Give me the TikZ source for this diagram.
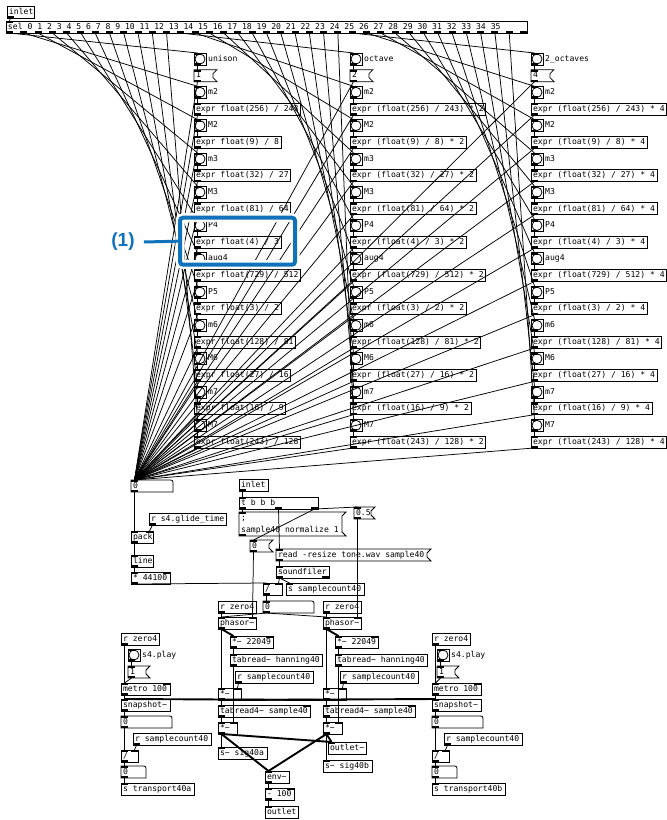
\documentclass[tikz,border=0pt]{standalone}
\usepackage{fontspec}
\newfontfamily\pdfont{DejaVu Sans Mono}
\newfontfamily\annfont{Liberation Sans}
\usetikzlibrary{calc}
\definecolor{annblue}{RGB}{16,114,186}
\newcommand\tld{\char"7E\relax}
\tikzset{
  pdtext/.style={font=\pdfont\fontsize{8.1}{9.5}\selectfont, inner sep=0pt, text height=6pt, text depth=1.7pt},
  pdbox/.style={pdtext, draw, line width=0.8pt, inner xsep=2pt, inner ysep=0pt, outer sep=0pt, minimum height=12pt, anchor=north west},
  pdshape/.style={pdtext, inner xsep=2pt, inner ysep=0pt, outer sep=0pt, minimum height=12pt, anchor=north west},
  pdline/.style={line width=0.8pt},
  cord/.style={line width=0.75pt},
  sigcord/.style={line width=1.9pt},
}
\newcommand\pdfitbox[2]{\ifdim#1pt>0pt\makebox[\dimexpr#1pt-4pt\relax][l]{#2}\else#2\fi}
\newcommand\pdio[7]{%
  \ifnum#6>0\relax
  \foreach \pdk in {1,...,#6}{%
    \pgfmathsetmacro\pdx{#2+(#4-7)/max(#6-1,1)*(\pdk-1)}%
    \fill (\pdx,#3) rectangle ++(7,2);
    \coordinate (#1-i\pdk) at (\pdx+3.5,#3);
  }\fi
  \ifnum#7>0\relax
  \foreach \pdk in {1,...,#7}{%
    \pgfmathsetmacro\pdx{#2+(#4-7)/max(#7-1,1)*(\pdk-1)}%
    \fill (\pdx,#3+#5) rectangle ++(7,-2);
    \coordinate (#1-o\pdk) at (\pdx+3.5,#3+#5);
  }\fi
}
\newcommand\pdobj[7]{%
  \node[pdbox, minimum width=#4pt] (#1) at (#2,#3) {\pdfitbox{#4}{#5}};
  \pdio{#1}{#2}{#3}{#4}{12}{#6}{#7}}
\newcommand\pdmsg[5]{%
  \node[pdshape, minimum width=#4pt] (#1) at (#2,#3) {\pdfitbox{#4}{#5}};
  \draw[pdline] (#1.north west) -- ([xshift=4pt]#1.north east) -- ([yshift=-4pt]#1.north east) -- ([yshift=4pt]#1.south east) -- ([xshift=4pt]#1.south east) -- (#1.south west) -- cycle;
  \pdio{#1}{#2}{#3}{#4}{12}{1}{1}}
\newcommand\pdnum[5]{%
  \node[pdshape, minimum width=#4pt] (#1) at (#2,#3) {\pdfitbox{#4}{#5}};
  \draw[pdline] (#1.south west) -- (#1.north west) -- ([xshift=-5pt]#1.north east) .. controls (#1.north east) .. ([yshift=-5pt]#1.north east) -- (#1.south east) -- cycle;
  \pdio{#1}{#2}{#3}{#4}{12}{1}{1}}
\newcommand\pdbng[4]{%
  \node[draw, line width=0.8pt, inner sep=0pt, outer sep=0pt, minimum size=12pt, anchor=north west] (#1) at (#2,#3) {};
  \draw[pdline] (#1.center) circle (5pt);
  \node[pdtext, anchor=west] (#1-l) at (#2+14,#3+6) {#4};
  \pdio{#1}{#2}{#3}{12}{12}{1}{1}}
\begin{document}
\begin{tikzpicture}[x=1pt,y=-1pt]
\useasboundingbox (0,0) rectangle (667,820);
\fill[white] (0,0) rectangle (667,820);

% ---------- top: selector ----------
\pdobj{in1}{7}{6}{27}{inlet}{0}{1}
\pdobj{sel}{6}{21}{521}{sel 0 1 2 3 4 5 6 7 8 9 10 11 12 13 14 15 16 17 18 19 20 21 22 23 24 25 26 27 28 29 30 31 32 33 34 35}{1}{37}
\draw[cord] (in1-o1) -- (sel-i1);
\pdnum{nfan}{131}{480}{42}{0}

% ---------- three interval columns ----------
\foreach \col/\cx/\lbl/\mv in {1/194/unison/1, 2/350/octave/2, 3/531/2\_octaves/4}{
  \pdbng{b\col-0}{\cx}{53}{\lbl}
  \pdmsg{e\col-0}{\cx}{69.65}{19}{\mv}
  \pgfmathtruncatemacro\si{12*(\col-1)+1}
  \draw[cord] (sel-o\si) -- (b\col-0-i1);
  \draw[cord] (b\col-0-o1) -- (e\col-0-i1);
  \draw[cord] (e\col-0-o1) -- (nfan-i1);
  \foreach \ra/\rb/\lab [count=\k] in {256/243/m2, 9/8/M2, 32/27/m3, 81/64/M3, 4/3/P4, 729/512/aug4, 3/2/P5, 128/81/m6, 27/16/M6, 16/9/m7, 243/128/M7}{
    \pgfmathsetmacro\yb{53+33.3*\k}
    \pgfmathsetmacro\ye{69.65+33.3*\k}
    \pgfmathtruncatemacro\si{12*(\col-1)+\k+1}
    \pdbng{b\col-\k}{\cx}{\yb}{\lab}
    \ifnum\col=1
      \pdobj{e\col-\k}{\cx}{\ye}{0}{expr float(\ra) / \rb}{1}{1}
    \else
      \pdobj{e\col-\k}{\cx}{\ye}{0}{expr (float(\ra) / \rb) * \mv}{1}{1}
    \fi
    \draw[cord] (sel-o\si) -- (b\col-\k-i1);
    \draw[cord] (b\col-\k-o1) -- (e\col-\k-i1);
    \draw[cord] (e\col-\k-o1) -- (nfan-i1);
  }
}

% ---------- glide / sample loading ----------
\pdobj{in2}{239}{479}{29}{inlet}{0}{1}
\pdobj{tb}{239}{497}{79}{t b b b}{1}{3}
\node[pdshape, minimum width=103pt, minimum height=24pt] (nm) at (239,512) {};
\node[pdtext, anchor=west] (nm-t1) at (241,518) {;};
\node[pdtext, anchor=west] (nm-t2) at (241,530) {sample40 normalize 1};
\draw[pdline] (nm.north west) -- ([xshift=4pt]nm.north east) -- ([yshift=-4pt]nm.north east) -- ([yshift=4pt]nm.south east) -- ([xshift=4pt]nm.south east) -- (nm.south west) -- cycle;
\pdio{nm}{239}{512}{103}{24}{1}{1}
\pdmsg{half}{354}{507}{17}{0.5}
\pdmsg{zm}{250}{540}{19}{0}
\pdobj{glide}{149}{513}{77}{r s4.glide\_time}{0}{1}
\pdobj{pack}{131}{531}{22}{pack}{2}{1}
\pdobj{lin}{131}{555}{22}{line}{1}{1}
\pdobj{mul}{131}{572}{39}{* 44100}{2}{1}
\pdmsg{rd}{276}{549}{151}{read -resize tone.wav sample40}
\pdobj{sf}{276}{566}{53}{soundfiler}{1}{2}
\pdobj{dv}{263}{583}{19}{/}{2}{1}
\pdobj{ssc}{286}{583}{78}{s samplecount40}{1}{0}
\pdnum{nph}{263}{601}{51}{0}
\pdobj{rza}{218}{601}{38}{r zero4}{0}{1}
\pdobj{rzb}{323}{601}{38}{r zero4}{0}{1}

\draw[cord] (in2-o1) -- (tb-i1);
\draw[cord] (tb-o1) -- (nm-i1);
\draw[cord] (tb-o2) -- (rd-i1);
\draw[cord] (tb-o3) -- (zm-i1);
\draw[cord] (tb-o3) -- (half-i1);
\draw[cord] (rd-o1) -- (sf-i1);
\draw[cord] (sf-o1) -- (dv-i2);
\draw[cord] (sf-o1) -- (ssc-i1);
\draw[cord] (nfan-o1) -- (pack-i1);
\draw[cord] (glide-o1) -- (pack-i2);
\draw[cord] (pack-o1) -- (lin-i1);
\draw[cord] (lin-o1) -- (mul-i1);
\draw[cord] (mul-o1) -- (dv-i1);
\draw[cord] (dv-o1) -- (nph-i1);

% ---------- players ----------
\pdobj{pha}{218}{617}{38}{phasor\tld}{2}{1}
\pdobj{mza}{230}{636}{43}{*\tld{} 22049}{2}{1}
\pdobj{hna}{230}{654}{92}{tabread\tld{} hanning40}{1}{1}
\pdobj{rsa}{235}{671}{78}{r samplecount40}{0}{1}
\pdobj{m1a}{218}{688}{23}{*\tld}{2}{1}
\pdobj{t4a}{218}{705}{92}{tabread4\tld{} sample40}{2}{1}
\pdobj{m2a}{218}{722}{19}{*\tld}{2}{1}
\pdobj{ssa}{218}{747}{49}{s\tld{} sig40a}{1}{0}
\pdobj{env}{265}{771}{24}{env\tld}{1}{1}
\pdobj{sub}{265}{788}{29}{- 100}{2}{1}
\pdobj{outl}{265}{806}{33}{outlet}{1}{0}

\pdobj{phb}{323}{617}{38}{phasor\tld}{2}{1}
\pdobj{mzb}{335}{636}{43}{*\tld{} 22049}{2}{1}
\pdobj{hnb}{335}{654}{92}{tabread\tld{} hanning40}{1}{1}
\pdobj{rsb}{340}{671}{78}{r samplecount40}{0}{1}
\pdobj{m1b}{323}{688}{23}{*\tld}{2}{1}
\pdobj{t4b}{323}{705}{92}{tabread4\tld{} sample40}{2}{1}
\pdobj{m2b}{323}{722}{19}{*\tld}{2}{1}
\pdobj{osb}{328}{742}{38}{outlet\tld}{1}{0}
\pdobj{ssb}{323}{760}{49}{s\tld{} sig40b}{1}{0}

\draw[cord] (nph-o1) -- (pha-i1);
\draw[cord] (nph-o1) -- (phb-i1);
\draw[cord] (rza-o1) -- (pha-i1);
\draw[cord] (rzb-o1) -- (phb-i1);
\draw[cord] (zm-o1) -- (pha-i2);
\draw[cord] (half-o1) -- (phb-i2);
\draw[cord] (rsa-o1) -- (m1a-i2);
\draw[cord] (rsb-o1) -- (m1b-i2);
\draw[cord] (env-o1) -- (sub-i1);
\draw[cord] (sub-o1) -- (outl-i1);

\draw[sigcord] (pha-o1) -- (m1a-i1);
\draw[sigcord] (pha-o1) -- (mza-i1);
\draw[sigcord] (mza-o1) -- (hna-i1);
\draw[sigcord] (hna-o1) -- (m2a-i2);
\draw[sigcord] (m1a-o1) -- (t4a-i1);
\draw[sigcord] (t4a-o1) -- (m2a-i1);
\draw[sigcord] (m2a-o1) -- (ssa-i1);
\draw[sigcord] (m2a-o1) -- (env-i1);
\draw[sigcord] (m2a-o1) -- (osb-i1);
\draw[sigcord] (phb-o1) -- (m1b-i1);
\draw[sigcord] (phb-o1) -- (mzb-i1);
\draw[sigcord] (mzb-o1) -- (hnb-i1);
\draw[sigcord] (hnb-o1) -- (m2b-i2);
\draw[sigcord] (m1b-o1) -- (t4b-i1);
\draw[sigcord] (t4b-o1) -- (m2b-i1);
\draw[sigcord] (m2b-o1) -- (ssb-i1);
\draw[sigcord] (m2b-o1) -- (env-i1);
\draw[sigcord] (m2b-o1) -- (osb-i1);

% ---------- transports ----------
\pdobj{rta}{121}{633}{38}{r zero4}{0}{1}
\pdbng{bta}{128}{649}{s4.play}
\pdmsg{ota}{128}{666}{18}{1}
\pdobj{mta}{121}{683}{49}{metro 100}{2}{1}
\pdobj{sna}{121}{699}{49}{snapshot\tld}{1}{1}
\pdnum{nsa}{121}{716}{51}{0}
\pdobj{rca}{133}{733}{78}{r samplecount40}{0}{1}
\pdobj{dva}{121}{750}{17}{/}{2}{1}
\pdnum{nta}{121}{766}{25}{0}
\pdobj{sta}{121}{783}{73}{s transport40a}{1}{0}

\pdobj{rtb}{432}{633}{38}{r zero4}{0}{1}
\pdbng{btb}{437}{649}{s4.play}
\pdmsg{otb}{437}{666}{18}{1}
\pdobj{mtb}{432}{683}{49}{metro 100}{2}{1}
\pdobj{snb}{432}{699}{49}{snapshot\tld}{1}{1}
\pdnum{nsb}{432}{716}{51}{0}
\pdobj{rcb}{444}{733}{78}{r samplecount40}{0}{1}
\pdobj{dvb}{432}{750}{17}{/}{2}{1}
\pdnum{ntb}{432}{766}{25}{0}
\pdobj{stb}{432}{783}{73}{s transport40b}{1}{0}

\foreach \t in {a,b}{
  \draw[cord] (rt\t-o1) -- (mt\t-i1);
  \draw[cord] (bt\t-o1) -- (ot\t-i1);
  \draw[cord] (ot\t-o1) -- (mt\t-i1);
  \draw[cord] (mt\t-o1) -- (sn\t-i1);
  \draw[cord] (sn\t-o1) -- (ns\t-i1);
  \draw[cord] (ns\t-o1) -- (dv\t-i1);
  \draw[cord] (rc\t-o1) -- (dv\t-i2);
  \draw[cord] (dv\t-o1) -- (nt\t-i1);
  \draw[cord] (nt\t-o1) -- (st\t-i1);
}
\draw[sigcord] (m1a-o1) -- (snb-i1);
\draw[sigcord] (m1b-o1) -- (sna-i1);

% ---------- annotation ----------
\draw[white, line width=9pt, rounded corners=3pt] (180,217.7) rectangle (295,264.7);
\node[draw=annblue, line width=4pt, rounded corners=3pt, inner sep=0pt, outer sep=0pt, minimum width=115pt, minimum height=47pt, anchor=north west] (hl) at (180,217.7) {};
\node[font=\annfont\bfseries\fontsize{19}{20}\selectfont, text=annblue, inner sep=0pt] (ann) at (123,242) {(1)};
\draw[annblue, line width=3pt] ([xshift=9pt]ann.east) -- ([xshift=-2pt]hl.west);
\end{tikzpicture}
\end{document}
